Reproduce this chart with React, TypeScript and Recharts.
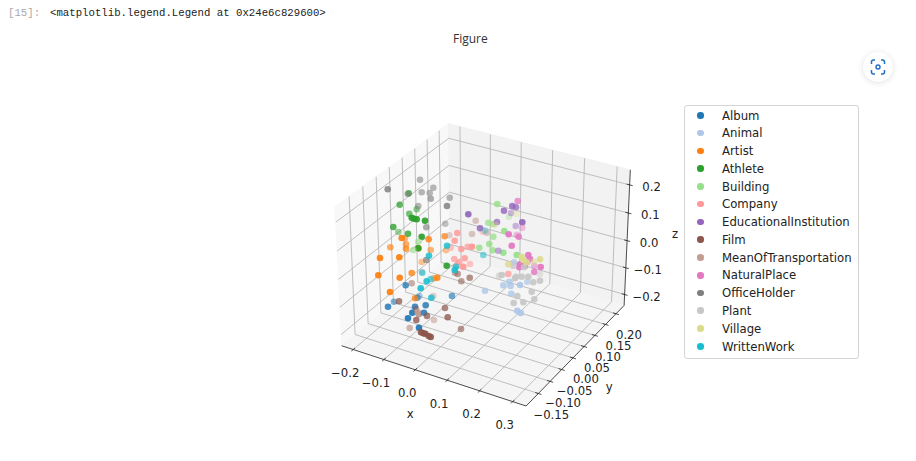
import { Scatter, ScatterChart, XAxis, YAxis } from "recharts";

// [plane x, plane y, depth shade]
type Row = [number, number, number];

const categories = [
  "Album", "Animal", "Artist", "Athlete", "Building", "Company", "EducationalInstitution",
  "Film", "MeanOfTransportation", "NaturalPlace", "OfficeHolder", "Plant", "Village", "WrittenWork",
];
const COLORS = [
  "#1f77b4", "#aec7e8", "#ff7f0e", "#2ca02c", "#98df8a", "#ff9896", "#9467bd",
  "#8c564b", "#c49c94", "#e377c2", "#7f7f7f", "#c7c7c7", "#dbdb8d", "#17becf",
];

const album: Row[] = [
  [405.7, 285.3, 0.85], [388, 306.7, 0.9], [394, 301.7, 0.6], [419.3, 296, 0.4], [417.3, 297.7, 0.7], [452, 296, 0.7],
  [415, 306.7, 0.9], [425.7, 305.3, 0.9], [412.3, 312.7, 1], [424, 312.7, 0.9], [408, 318.3, 1], [419, 327.7, 1],
];
const animal: Row[] = [
  [514, 262.3, 0.8], [509.3, 281.7, 0.9], [503.3, 285.3, 0.9], [510.7, 286, 0.9], [520, 285, 1], [527.3, 281.7, 0.8],
  [511.3, 293.7, 0.9], [517.3, 310.7, 1], [520.7, 313, 1], [485, 290.7, 0.9],
];
const artist: Row[] = [
  [405, 238.3, 0.6], [401.7, 238, 1], [428.7, 239.3, 0.9], [444.7, 236.3, 0.8], [390.3, 247.3, 0.7], [406, 244.3, 0.7],
  [406, 248.7, 0.8], [418.3, 248.3, 1], [430.7, 250, 0.6], [380, 258, 1], [399.3, 257.3, 1], [421.7, 262, 0.5],
  [378.3, 275.3, 1], [399.7, 277.7, 1], [411.7, 273, 0.85], [390, 292, 1], [415, 298.3, 0.8], [437.3, 277.7, 0.9],
  [434, 278.3, 0.6], [446, 250.3, 0.5],
];
const athlete: Row[] = [
  [408.7, 193.3, 0.85], [399.7, 204.7, 0.8], [416.7, 209.3, 0.6], [409.3, 213.7, 0.7], [411.7, 217.7, 1], [414, 218.7, 1],
  [416.7, 219.3, 1], [425, 220.7, 1], [393.3, 227, 0.85], [408, 233.7, 0.85], [421.7, 236.7, 1], [398.3, 232, 0.5],
  [418.3, 248.3, 1], [446.7, 265.7, 1],
];
const building: Row[] = [
  [479.3, 247.7, 0.9], [489.3, 244, 0.9], [492.7, 250.3, 0.9], [493.3, 236.7, 0.8], [413.3, 250, 0.7], [418.3, 241.7, 0.7],
  [497.3, 204, 0.9], [488.3, 222.7, 0.8], [493.3, 224, 0.8], [509, 216.7, 0.4], [504.3, 231, 1], [503.3, 252.7, 1], [516.7, 255, 1],
];
const company: Row[] = [
  [454.7, 240.7, 0.9], [450.7, 247.7, 0.6], [461.3, 249, 0.9], [467.7, 246.7, 0.8], [472, 246.7, 1], [454.3, 259, 0.8],
  [464.7, 258.3, 0.9], [459.3, 262.3, 0.8], [470, 264, 0.6], [463.3, 266.7, 1], [457.3, 265, 0.6], [457.3, 233, 0.9],
  [482.7, 231.7, 0.5], [508.3, 274, 0.8],
];
const educational: Row[] = [
  [468.3, 214.3, 1], [480, 228.3, 0.9], [497, 222, 0.8], [504, 210.7, 0.9], [512.3, 206, 0.9], [516, 207.3, 0.8],
  [511, 213, 0.5], [522.3, 222.3, 1], [515.7, 226, 0.5], [498.3, 250.7, 0.6],
];
const film: Row[] = [
  [399, 301.3, 0.8], [416, 309, 0.5], [445, 308, 0.75], [427, 316, 0.8], [447.7, 317.3, 0.85], [416.3, 320, 0.85],
  [418.7, 314.3, 0.6], [421, 332.3, 1], [423.3, 333.3, 1], [425.3, 333.7, 1], [428.7, 336, 1], [430.7, 337, 1],
  [461, 329, 0.65], [455, 272.7, 0.5], [457.7, 274, 0.6], [469.7, 277.7, 0.7], [461.3, 281.3, 0.6], [411.7, 283.3, 0.5],
];
const transport: Row[] = [
  [434, 320, 0.6], [409.7, 328, 0.8], [433.3, 296, 0.5], [475.7, 220.7, 0.6], [472, 234, 0.6], [449.3, 235.3, 0.5],
  [417.3, 311.7, 0.6], [421.7, 271.7, 0.4], [486.7, 232.7, 0.6],
];
const naturalPlace: Row[] = [
  [517.7, 201, 0.8], [522.3, 227.7, 0.5], [508.7, 234.3, 1], [516.7, 234.7, 0.5], [518.7, 236.7, 0.9], [511.7, 245.7, 1],
  [528.3, 255, 1], [530, 259, 1], [527.3, 261.7, 1], [520, 264.3, 1], [519.3, 267.3, 1], [525, 266, 0.9],
  [540.7, 267, 1], [534.3, 265.7, 0.6], [534.3, 272, 0.9],
];
const officeHolder: Row[] = [
  [387.7, 189.3, 0.9], [420, 179.7, 0.6], [433.3, 187.7, 0.6], [429.7, 193, 0.6], [421.7, 192.3, 0.6], [407.7, 194, 0.6],
  [430.7, 198.7, 0.7], [449.7, 197.7, 0.6], [447, 206, 0.9], [418.3, 206, 0.6], [445.3, 223.7, 0.5], [426.3, 227.3, 0.7],
  [426.3, 260, 0.8],
];
const plant: Row[] = [
  [513.3, 265.7, 0.9], [524, 267.3, 0.9], [501.7, 275, 1], [516, 276.7, 1], [515, 278.3, 1], [521.7, 276.7, 1],
  [528.3, 276.7, 1], [533.3, 282.3, 1], [540, 280.7, 1], [540, 274, 0.5], [531.7, 291.7, 1], [517.3, 296, 1],
  [534.3, 299.3, 1], [513.7, 303, 1], [523.3, 302.3, 1], [499, 275.7, 0.6],
];
const village: Row[] = [
  [521.7, 256.7, 1], [540, 259.3, 1], [534, 261.7, 0.6], [508.3, 264.3, 0.9], [523.3, 260, 1], [526.7, 262.3, 1],
  [516, 214, 0.4], [495, 225, 0.4],
];
const writtenWork: Row[] = [
  [447, 245.7, 0.9], [429, 255.7, 0.9], [483.3, 255, 0.6], [426.7, 281.3, 0.95], [430.7, 279, 0.7], [420.7, 288.3, 1],
  [431.3, 297.7, 0.9], [456, 266.7, 0.8], [454.7, 270, 0.95], [422.3, 272.7, 0.7], [485, 230.7, 0.4],
];
const seriesRows = [
  album, animal, artist, athlete, building, company, educational,
  film, transport, naturalPlace, officeHolder, plant, village, writtenWork,
];

const xTicks = [-0.2, -0.1, 0, 0.1, 0.2, 0.3];
const xTickLabels = ["−0.2", "−0.1", "0.0", "0.1", "0.2", "0.3"];
const yTicks = [-0.15, -0.1, -0.05, 0, 0.05, 0.1, 0.15, 0.2];
const yTickLabels = ["−0.15", "−0.10", "−0.05", "0.00", "0.05", "0.10", "0.15", "0.20"];
const zTicks = [-0.2, -0.1, 0, 0.1, 0.2];
const zTickLabels = ["−0.2", "−0.1", "0.0", "0.1", "0.2"];

const XLIM = [-0.238, 0.34];
const YLIM = [-0.2006, 0.2396];
const ZLIM = [-0.2415, 0.2528];

const WIDTH = 916;
const HEIGHT = 461;
const DEJAVU = "'DejaVu Sans', sans-serif";

// same camera as mplot3d at elev 30, azim -60
function project(x: number, y: number, z: number) {
  const r0 = ((x - XLIM[0]) / (XLIM[1] - XLIM[0]) - 0.5) * 1.1905;
  const r1 = ((y - YLIM[0]) / (YLIM[1] - YLIM[0]) - 0.5) * 1.1905;
  const r2 = ((z - ZLIM[0]) / (ZLIM[1] - ZLIM[0]) - 0.5) * 0.8929;
  const xv = 0.866 * r0 + 0.5 * r1;
  const yv = -0.25 * r0 + 0.433 * r1 + 0.866 * r2;
  const depth = 10 - (0.433 * r0 - 0.75 * r1 + 0.5 * r2);
  return { x: 485.5 + (1775 * xv) / depth, y: 258.1 - (1775 * yv) / depth };
}

const [x0, x1] = XLIM;
const [y0, y1] = YLIM;
const [z0, z1] = ZLIM;
const xPad = (x1 - x0) * 0.016;
const yPad = (y1 - y0) * 0.016;

const panes = [
  { fill: "#f8f8f8", corners: [[x0, y0, z0], [x0, y1, z0], [x0, y1, z1], [x0, y0, z1]] },
  { fill: "#f2f2f2", corners: [[x0, y1, z0], [x1, y1, z0], [x1, y1, z1], [x0, y1, z1]] },
  { fill: "#f5f5f5", corners: [[x0, y0, z0], [x1, y0, z0], [x1, y1, z0], [x0, y1, z0]] },
];
const gridLines = [
  ...xTicks.map((t) => [[t, y0, z0], [t, y1, z0], [t, y1, z1]]),
  ...yTicks.map((t) => [[x1, t, z0], [x0, t, z0], [x0, t, z1]]),
  ...zTicks.map((t) => [[x0, y0, t], [x0, y1, t], [x1, y1, t]]),
];
const axisLines = [
  [[x0, y0, z0], [x1, y0, z0]],
  [[x1, y0, z0], [x1, y1, z0]],
  [[x1, y1, z0], [x1, y1, z1]],
  ...xTicks.map((t) => [[t, y0 - yPad, z0], [t, y0 + yPad, z0]]),
  ...yTicks.map((t) => [[x1 + xPad, t, z0], [x1 - xPad, t, z0]]),
  ...zTicks.map((t) => [[x1 + xPad, y1, t], [x1 - xPad, y1, t]]),
];

const pts = (line: number[][]) => line.map(([a, b, c]) => project(a, b, c));

const tickTexts = [
  ...xTicks.map((t, i) => {
    const p = project(t, y0, z0);
    return { x: p.x - 8, y: p.y + 23.5, label: xTickLabels[i] };
  }),
  ...yTicks.map((t, i) => {
    const p = project(x1, t, z0);
    return { x: p.x + 13, y: p.y + 21.5, label: yTickLabels[i] };
  }),
  ...zTicks.map((t, i) => {
    const p = project(x1, y1, t);
    return { x: p.x + 22, y: p.y + 2, label: zTickLabels[i] };
  }),
  { ...(() => { const p = project(x0 + (x1 - x0) * 0.4, y0, z0); return { x: p.x - 3, y: p.y + 45 }; })(), label: "x" },
  { ...(() => { const p = project(x1, y0 + (y1 - y0) * 0.5, z0); return { x: p.x + 32, y: p.y + 34 }; })(), label: "y" },
  { ...(() => { const p = project(x1, y1, z0 + (z1 - z0) * 0.5); return { x: p.x + 48, y: p.y - 5 }; })(), label: "z" },
];

const NoDot = () => null;

const polygon = (fill: string) => (props: any) => (
  <polygon points={props.points.map((p: any) => `${p.x},${p.y}`).join(" ")} fill={fill} stroke={fill} />
);

const TickText = (props: any) => (
  <text
    x={props.cx}
    y={props.cy}
    textAnchor="middle"
    dominantBaseline="central"
    fontFamily={DEJAVU}
    fontSize={11.7}
    fill="#222"
  >
    {props.payload.label}
  </text>
);

const dot = (color: string) => (props: any) => (
  <circle cx={props.cx} cy={props.cy} r={3.3} fill={color} fillOpacity={props.payload.shade * 0.92} />
);

function LegendBox() {
  return (
    <div
      style={{
        position: "absolute",
        left: 684,
        top: 105,
        width: 173,
        height: 252,
        border: "1px solid #d4d4d4",
        borderRadius: 3,
        background: "#fff",
        boxSizing: "content-box",
      }}
    >
      {categories.map((name, i) => (
        <div
          key={name}
          style={{
            position: "absolute",
            left: 0,
            top: 9.5 + i * 17.77 - 9,
            height: 18,
            lineHeight: "18px",
            fontFamily: DEJAVU,
            fontSize: 11.7,
            color: "#222",
            whiteSpace: "nowrap",
          }}
        >
          <span
            style={{
              position: "absolute",
              left: 12,
              top: 5.5,
              width: 6.6,
              height: 6.6,
              borderRadius: "50%",
              background: COLORS[i],
            }}
          />
          <span style={{ position: "absolute", left: 37 }}>{name}</span>
        </div>
      ))}
    </div>
  );
}

function ScreenshotButton() {
  return (
    <div
      style={{
        position: "absolute",
        left: 863,
        top: 52,
        width: 30,
        height: 30,
        borderRadius: "50%",
        background: "#fff",
        boxShadow: "0 1px 6px rgba(0,0,0,0.12)",
      }}
    >
      <svg width={30} height={30} style={{ display: "block" }}>
        <path
          d="M8.5 12V10a2 2 0 0 1 2-2h1.5M18 8h1.5a2 2 0 0 1 2 2v2M21.500 18v2a2 2 0 0 1-2 2H18M12 22h-1.500a2 2 0 0 1-2-2v-2"
          fill="none"
          stroke="#1f6fc4"
          strokeWidth={1.5}
        />
        <circle cx={15} cy={15} r={2} fill="none" stroke="#1f6fc4" strokeWidth={1.4} />
      </svg>
    </div>
  );
}

export default function App() {
  return (
    <div style={{ position: "absolute", left: 0, top: 0, width: WIDTH, height: HEIGHT, overflow: "hidden", background: "#fff" }}>
      <span style={{ position: "absolute", left: 8, top: 7, fontFamily: "'Liberation Mono', monospace", fontSize: 10.7, color: "#a8a8a8" }}>
        [15]:
      </span>
      <span style={{ position: "absolute", left: 50, top: 7, fontFamily: "'Liberation Mono', monospace", fontSize: 10.7, color: "#222" }}>
        {"<matplotlib.legend.Legend at 0x24e6c829600>"}
      </span>
      <span style={{ position: "absolute", left: 453, top: 30, fontFamily: "'Open Sans', sans-serif", fontSize: 12, color: "#333" }}>
        Figure
      </span>
      <ScatterChart width={WIDTH} height={HEIGHT} margin={{ top: 0, right: 0, bottom: 0, left: 0 }} style={{ position: "absolute", left: 0, top: 0 }}>
        <XAxis type="number" dataKey="x" domain={[0, WIDTH]} hide allowDataOverflow />
        <YAxis type="number" dataKey="y" domain={[0, HEIGHT]} reversed hide allowDataOverflow />
        {panes.map((p, i) => (
          <Scatter
            key={`pane${i}`}
            data={pts(p.corners)}
            line={polygon(p.fill)}
            shape={NoDot}
            legendType="none"
            isAnimationActive={false}
          />
        ))}
        {gridLines.map((l, i) => (
          <Scatter
            key={`grid${i}`}
            data={pts(l)}
            line={{ stroke: "#b8b8b8", strokeWidth: 0.9 }}
            shape={NoDot}
            legendType="none"
            isAnimationActive={false}
          />
        ))}
        {axisLines.map((l, i) => (
          <Scatter
            key={`axis${i}`}
            data={pts(l)}
            line={{ stroke: "#222", strokeWidth: 0.8 }}
            shape={NoDot}
            legendType="none"
            isAnimationActive={false}
          />
        ))}
        <Scatter data={tickTexts} shape={TickText} legendType="none" isAnimationActive={false} />
        {categories.map((name, i) => (
          <Scatter
            key={name}
            name={name}
            data={seriesRows[i].map(([x, y, shade]) => ({ x, y, shade }))}
            fill={COLORS[i]}
            shape={dot(COLORS[i])}
            isAnimationActive={false}
          />
        ))}
      </ScatterChart>
      <LegendBox />
      <ScreenshotButton />
    </div>
  );
}
